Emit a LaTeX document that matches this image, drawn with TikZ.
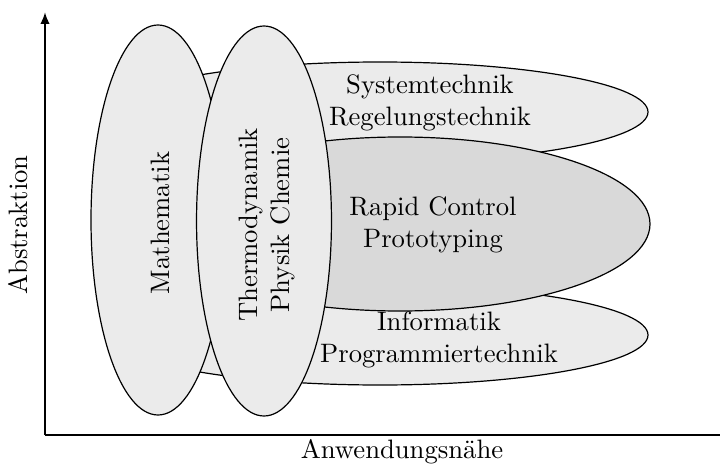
\documentclass[tikz,border=0pt]{standalone}
\usetikzlibrary{shapes.geometric,arrows.meta}
\definecolor{lightfill}{gray}{0.922}
\definecolor{darkfill}{gray}{0.85}
\begin{document}
\begin{tikzpicture}[x=0.375pt,y=-0.375pt,
  area/.style={ellipse,draw=black,line width=0.45pt,inner sep=0pt,fill=lightfill},
  lbl/.style={align=center,inner sep=0pt,font=\normalsize},
  axis/.style={line width=0.85pt}]
\useasboundingbox (0,0) rectangle (720,467);
% horizontal areas
\node[area,minimum width=201pt,minimum height=37.5pt] (sys) at (380,112) {};
\node[area,minimum width=201pt,minimum height=37.5pt] (inf) at (380,335) {};
\node[area,fill=darkfill,minimum width=187.5pt,minimum height=65.25pt] (rcp) at (400,224) {};
% vertical areas
\node[area,minimum width=50.25pt,minimum height=146.25pt] (math) at (158,220) {};
\node[area,minimum width=50.6pt,minimum height=146.25pt] (thermo) at (264,221) {};
% labels
\node[lbl] (tsys) at (430,103) {Systemtechnik\\Regelungstechnik};
\node[lbl] (trcp) at (433,225) {Rapid Control\\Prototyping};
\node[lbl] (tinf) at (439,340) {Informatik\\Programmiertechnik};
\node[lbl,rotate=90] (tmath) at (160,223) {Mathematik};
\node[lbl,rotate=90] (tthermo) at (267,225) {Thermodynamik\\Physik Chemie};
% axes
\coordinate (o) at (45,435);
\coordinate (ytop) at (45,12);
\coordinate (xend) at (720,435);
\draw[axis,-{Latex[length=4.5pt,width=3.6pt]}] (o) -- (ytop);
\draw[axis] (o) -- (xend);
\node[lbl,rotate=90] (yl) at (18,225) {Abstraktion};
\node[lbl] (xl) at (402,452) {Anwendungsnähe};
\end{tikzpicture}
\end{document}
